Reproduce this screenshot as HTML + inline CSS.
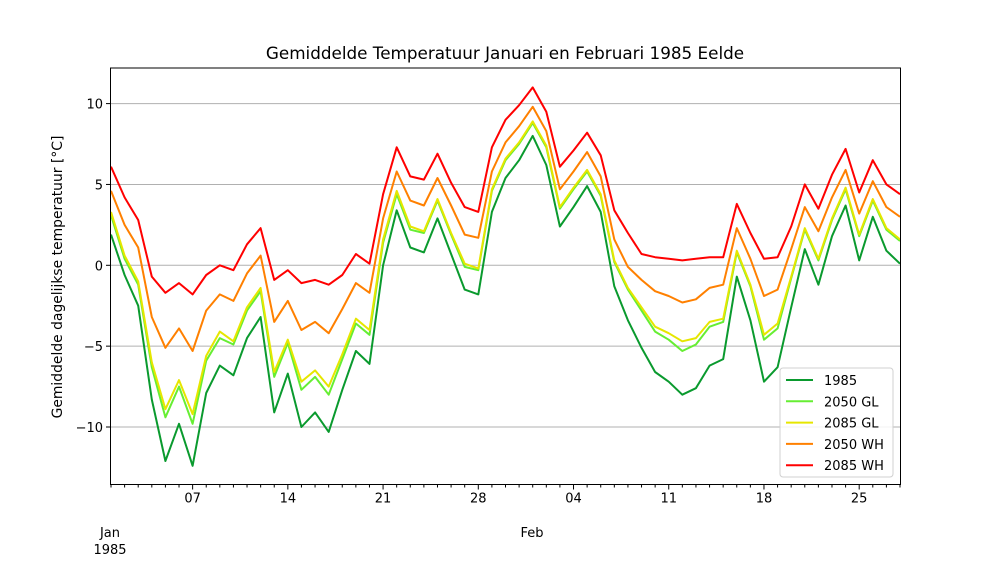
<!DOCTYPE html>
<html><head><meta charset="utf-8"><style>
body{margin:0;background:#fff}
svg text{font-family:"DejaVu Sans","Liberation Sans",sans-serif;fill:#000}
</style></head><body>
<svg id="chart" width="1000" height="563" xmlns="http://www.w3.org/2000/svg">
<rect width="1000" height="563" fill="#fff"/>
<text x="505" y="59" font-size="16.8" text-anchor="middle">Gemiddelde Temperatuur Januari en Februari 1985 Eelde</text>
<text transform="translate(62,277) rotate(-90)" font-size="13.9" text-anchor="middle">Gemiddelde dagelijkse temperatuur [°C]</text>
<g id="grid"></g><g id="series"></g><g id="axes"></g><g id="legend"></g>
</svg>
<script>
const dayLabels = ["07","14","21","28","04","11","18","25"];
const dayLabelIdx = [6,13,20,27,34,41,48,55];
const yTicks = [-10,-5,0,5,10];
const seriesNames = ["1985","2050 GL","2085 GL","2050 WH","2085 WH"];
const seriesColors = ["#0a9a2e","#66ee33","#e6e600","#ff8000","#ff0000"];
const s1985 = [1.9,-0.6,-2.5,-8.3,-12.1,-9.8,-12.4,-7.9,-6.2,-6.8,-4.5,-3.2,-9.1,-6.7,-10.0,-9.1,-10.3,-7.7,-5.3,-6.1,0.0,3.4,1.1,0.8,2.9,0.7,-1.5,-1.8,3.3,5.4,6.5,8.0,6.2,2.4,3.6,4.9,3.3,-1.3,-3.4,-5.1,-6.6,-7.2,-8.0,-7.6,-6.2,-5.8,-0.7,-3.4,-7.2,-6.3,-2.6,1.0,-1.2,1.8,3.7,0.3,3.0,0.9,0.1];
const s2050GL = [3.1,0.4,-1.2,-6.3,-9.4,-7.5,-9.8,-5.9,-4.5,-4.9,-2.8,-1.6,-6.9,-4.8,-7.7,-6.9,-8.0,-5.8,-3.6,-4.3,1.4,4.4,2.2,2.0,4.0,1.9,-0.1,-0.3,4.6,6.5,7.5,8.8,7.3,3.5,4.7,5.8,4.3,0.2,-1.5,-2.8,-4.1,-4.6,-5.3,-4.9,-3.8,-3.5,0.8,-1.3,-4.6,-3.9,-0.8,2.2,0.3,2.8,4.7,1.8,4.0,2.2,1.5];
const s2085GL = [3.3,0.6,-1.0,-6.0,-8.9,-7.1,-9.2,-5.6,-4.1,-4.7,-2.6,-1.4,-6.6,-4.6,-7.2,-6.5,-7.5,-5.5,-3.3,-4.0,1.6,4.6,2.4,2.1,4.1,2.0,0.1,-0.2,4.7,6.6,7.6,8.9,7.4,3.6,4.8,5.9,4.4,0.3,-1.4,-2.6,-3.8,-4.2,-4.7,-4.5,-3.5,-3.3,0.9,-1.2,-4.3,-3.6,-0.7,2.3,0.4,2.9,4.8,1.9,4.1,2.3,1.6];
const s2050WH = [4.6,2.5,1.1,-3.2,-5.1,-3.9,-5.3,-2.8,-1.8,-2.2,-0.5,0.6,-3.5,-2.2,-4.0,-3.5,-4.2,-2.7,-1.1,-1.7,2.9,5.8,4.0,3.7,5.4,3.7,1.9,1.7,5.8,7.6,8.6,9.8,8.3,4.7,5.8,7.0,5.5,1.6,-0.1,-0.9,-1.6,-1.9,-2.3,-2.1,-1.4,-1.2,2.3,0.4,-1.9,-1.5,1.0,3.6,2.1,4.2,5.9,3.2,5.2,3.6,3.0];
const s2085WH = [6.1,4.2,2.8,-0.7,-1.7,-1.1,-1.8,-0.6,0.0,-0.3,1.3,2.3,-0.9,-0.3,-1.1,-0.9,-1.2,-0.6,0.7,0.1,4.4,7.3,5.5,5.3,6.9,5.1,3.6,3.3,7.3,9.0,9.9,11.0,9.5,6.1,7.1,8.2,6.8,3.4,2.0,0.7,0.5,0.4,0.3,0.4,0.5,0.5,3.8,2.0,0.4,0.5,2.4,5.0,3.5,5.6,7.2,4.5,6.5,5.0,4.4];
const allSeries = [s1985,s2050GL,s2085GL,s2050WH,s2085WH];

const NS="http://www.w3.org/2000/svg";
const L=111,R=900,T=68,B=484.5;
const nDays=s1985.length;
function X(i){return L+(R-L)*i/(nDays-1);}
function Y(v){return 265.3-16.17*v;}
function mk(tag,attrs,parent){const e=document.createElementNS(NS,tag);for(const k in attrs)e.setAttribute(k,attrs[k]);parent.appendChild(e);return e;}
const grid=document.getElementById('grid'),axes=document.getElementById('axes'),ser=document.getElementById('series'),leg=document.getElementById('legend');
yTicks.forEach(v=>{
  const g=mk('line',{x1:L-1,x2:R,y1:Y(v),y2:Y(v),stroke:'#b0b0b0','stroke-width':1},grid);
  
  
  mk('line',{x1:L-5,x2:L-1,y1:Y(v),y2:Y(v),stroke:'#000'},axes);
  const t=mk('text',{x:L-8,y:Y(v)+5,'font-size':13,'text-anchor':'end'},axes);
  t.textContent=v===0?'0':(v<0?'\u2212'+(-v):String(v));
  
  
});
for(let i=0;i<nDays;i++){
  const major=dayLabelIdx.indexOf(i);
  mk('line',{x1:X(i),x2:X(i),y1:B,y2:B+(major>=0?5:3),stroke:'#000'},axes);
  if(major>=0){
    const t=mk('text',{x:X(i),y:B+18,'font-size':13,'text-anchor':'middle'},axes);
    t.textContent=dayLabels[major];
    
    
  }
}
[['Jan',110,537],['1985',110,554],['Feb',532,537]].forEach(a=>{
  const t=mk('text',{x:a[1],y:a[2],'font-size':13,'text-anchor':'middle'},axes);
  t.textContent=a[0];
  
  
});
allSeries.forEach((s,k)=>{
  const p=mk('polyline',{points:s.map((v,i)=>X(i).toFixed(1)+','+Y(v).toFixed(1)).join(' '),fill:'none',stroke:seriesColors[k],'stroke-width':2,'stroke-linejoin':'round'},ser);
  
  
});
const frame=mk('rect',{x:L-0.5,y:T,width:R-L+1,height:B-T,fill:'none',stroke:'#000','stroke-width':1},axes);


const box=mk('rect',{x:780,y:368,width:113,height:109,rx:3,fill:'#fff','fill-opacity':0.85,stroke:'#d0d0d0'},leg);


seriesNames.forEach((n,k)=>{
  const y=380+k*21.3;
  mk('line',{x1:786,x2:813,y1:y,y2:y,stroke:seriesColors[k],'stroke-width':2},leg);
  const t=mk('text',{x:824,y:y+5,'font-size':13},leg);
  t.textContent=n;
  
  
});
</script>
</body></html>
